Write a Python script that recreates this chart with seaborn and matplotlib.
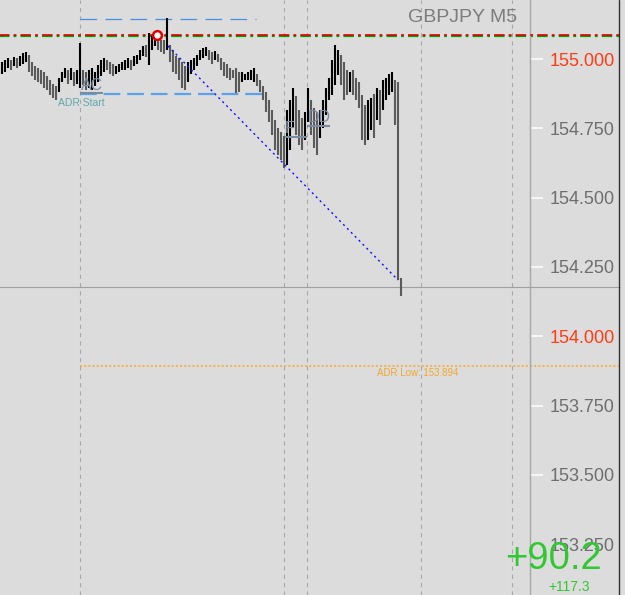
import numpy as np
import pandas as pd
import matplotlib
matplotlib.use("Agg")
import matplotlib.pyplot as plt
import matplotlib.transforms as mtransforms
from matplotlib.lines import Line2D
import seaborn as sns

# ---------------- data ----------------
symbol = "GBPJPY M5"
highs = [154.989, 154.996, 155.004, 154.996, 155.007, 155.004, 155.011, 155.022, 155.025, 155.014,
         154.989, 154.975, 154.968, 154.960, 154.953, 154.939, 154.924, 154.910, 154.903, 154.931,
         154.953, 154.968, 154.960, 154.968, 154.953, 154.960, 155.058, 154.960, 154.953, 154.960,
         154.968, 154.953, 154.978, 154.996, 155.004, 154.996, 154.989, 154.982, 154.975, 154.982,
         154.989, 154.996, 155.004, 154.996, 155.011, 155.014, 155.032, 155.047, 155.050, 155.094,
         155.083, 155.090, 155.076, 155.069, 155.069, 155.148, 155.050, 155.032, 155.011, 155.004,
         154.989, 154.975, 154.989, 154.996, 155.004, 155.014, 155.032, 155.040, 155.043, 155.032,
         155.025, 155.029, 155.018, 155.004, 154.989, 154.982, 154.968, 154.960, 154.968, 154.953,
         154.953, 154.946, 154.953, 154.960, 154.968, 154.946, 154.924, 154.903, 154.881, 154.852,
         154.816, 154.780, 154.751, 154.737, 154.722, 154.816, 154.852, 154.895, 154.867, 154.816,
         154.787, 154.809, 154.895, 154.852, 154.823, 154.809, 154.816, 154.852, 154.895, 154.931,
         154.996, 155.050, 155.032, 155.014, 154.989, 154.960, 154.953, 154.960, 154.931, 154.917,
         154.870, 154.834, 154.852, 154.859, 154.874, 154.895, 154.888, 154.924, 154.931, 154.946,
         154.953, 154.924, 154.917, 154.210]
lows = [154.946, 154.953, 154.968, 154.960, 154.975, 154.968, 154.975, 154.982, 154.989, 154.953,
        154.939, 154.924, 154.917, 154.910, 154.895, 154.888, 154.870, 154.859, 154.852, 154.881,
        154.917, 154.931, 154.910, 154.924, 154.903, 154.910, 154.895, 154.906, 154.888, 154.895,
        154.888, 154.903, 154.917, 154.939, 154.953, 154.960, 154.946, 154.939, 154.946, 154.953,
        154.960, 154.960, 154.968, 154.960, 154.975, 154.982, 154.996, 155.011, 155.007, 154.978,
        155.032, 155.047, 155.032, 155.025, 155.018, 155.032, 154.989, 154.953, 154.946, 154.924,
        154.895, 154.888, 154.917, 154.946, 154.960, 154.975, 154.996, 155.004, 155.011, 154.996,
        154.982, 154.996, 154.989, 154.960, 154.939, 154.931, 154.924, 154.931, 154.877, 154.881,
        154.917, 154.924, 154.924, 154.924, 154.917, 154.903, 154.881, 154.852, 154.809, 154.773,
        154.726, 154.672, 154.654, 154.636, 154.607, 154.618, 154.672, 154.751, 154.726, 154.690,
        154.672, 154.708, 154.773, 154.726, 154.679, 154.654, 154.715, 154.751, 154.798, 154.852,
        154.870, 154.906, 154.942, 154.906, 154.852, 154.870, 154.881, 154.870, 154.852, 154.823,
        154.708, 154.690, 154.708, 154.744, 154.715, 154.780, 154.762, 154.816, 154.852, 154.870,
        154.881, 154.762, 154.203, 154.145]
price_ticks = [153.25, 153.5, 153.75, 154.0, 154.25, 154.5, 154.75, 155.0]
round_levels = [154.0, 155.0]
pivot_level = 155.087
adr_high_level = 155.144
adr_start_level = 154.874
adr_low_level = 153.894
current_price = 154.178
session_bars = [26, 94, 101.7, 139.7, 170]
trend_x = [55.3, 132.0]
trend_y = [155.047, 154.203]
swing_x = [51.7]
swing_y = [155.087]
adr_low_label = "ADR Low: 153.894"
pips_today = "+90.2"
pips_total = "+117.3"

# ---------------- style ----------------
bg = "#dcdcdc"
sns.set_theme(style="white", rc={"axes.facecolor": bg, "figure.facecolor": bg})
plt.rcParams["font.family"] = ["Liberation Sans", "DejaVu Sans"]
plt.rcParams["lines.scale_dashes"] = False

W, H = 625, 595
fig = plt.figure(figsize=(W / 100, H / 100), dpi=100)
ax = fig.add_axes([0, 0, 530 / W, 1])
ax.set_facecolor(bg)

n = len(highs)
idx = np.arange(n)
df = pd.DataFrame({"bar": idx, "high": highs, "low": lows})
df["mid"] = (df["high"] + df["low"]) / 2
up = df["mid"].diff().fillna(0) >= 0
colors = np.where(up, "#000000", "#5a5a5a")

x_right_ext = 206  # bar units at the right edge of the price panel

# session separators
for sb in session_bars:
    ax.axvline(sb, color="#a8a8a8", lw=0.8, ls=(0, (3, 3)), zorder=1)

# current price line
ax.hlines(current_price, -1, x_right_ext, color="#a0a0a0", lw=0.8, clip_on=False, zorder=1)

# pivot dash-dot (green under red)
dd = (0, (7.5, 3.0, 2.0, 3.0))
off = mtransforms.offset_copy(ax.transData, fig=fig, x=0, y=-1.0, units="dots")
ax.hlines(pivot_level, -1, x_right_ext, color="#00a000", lw=1.6, ls=dd, clip_on=False,
          transform=off, zorder=2)
ax.hlines(pivot_level, -1, x_right_ext, color="#e00000", lw=1.2, ls=dd, clip_on=False, zorder=3)

# ADR lines
ax.hlines(adr_high_level, 26, 84.7, color="#4a90dc", lw=0.9, ls=(0, (12, 6)), zorder=2)
ax.hlines(adr_start_level, 26, 86.7, color="#5aa2ec", lw=1.6, ls=(0, (12, 5)), zorder=2)
ax.hlines(adr_low_level, 26, x_right_ext, color="#f5ac3a", lw=1.2, ls=(0, (1.5, 1.5)),
          clip_on=False, zorder=2)

# bars
ax.vlines(df["bar"], df["low"], df["high"], colors=colors, lw=1.5, zorder=4)

# trend line
sns.lineplot(x=trend_x, y=trend_y, ax=ax, color="#1010ff", lw=1.0,
             linestyle=(0, (1.5, 2.5)), zorder=5)
sns.scatterplot(x=swing_x, y=swing_y, ax=ax, s=40, facecolor="white",
                edgecolor="#e00000", linewidth=1.8, zorder=6)

# labels on chart
lab_c = "#7a8ca4"
ax.text(26.3, 154.878, "AC", color=lab_c, fontsize=11.5, ha="left", va="bottom", zorder=6)
ax.hlines(154.876, 26, 33.7, color=lab_c, lw=1.5, zorder=6)
ax.text(18.7, 154.858, "ADR Start", color="#5fa8b0", fontsize=7.5, ha="left", va="top", zorder=6)
ax.text(94.4, 154.721, "F", color=lab_c, fontsize=11.5, ha="left", va="bottom", zorder=6)
ax.hlines(154.719, 94.3, 101.7, color=lab_c, lw=1.5, zorder=6)
ax.text(101.9, 154.762, "DD", color=lab_c, fontsize=11.5, ha="left", va="bottom", zorder=6)
ax.hlines(154.760, 101.7, 109.3, color=lab_c, lw=1.5, zorder=6)
ax.text(125, 153.884, adr_low_label, color="#f0a830", fontsize=7, ha="left", va="top", zorder=6)

# axes limits and y axis on the right
ax.set_xlim(-2 / 3, 176)
ax.set_ylim(153.0672, 155.2128)
ax.set_xticks([])
ax.yaxis.tick_right()
ax.set_yticks(price_ticks)
ax.set_yticklabels([f"{t:.3f}" for t in price_ticks], fontsize=13)
ax.tick_params(axis="y", which="major", direction="out", length=9.5, width=1.1,
               color="white", pad=4.5, right=True, left=False)
for t, lab, tk in zip(price_ticks, ax.get_yticklabels(), ax.yaxis.get_major_ticks()):
    if t in round_levels:
        lab.set_color("#ff3c14")
        tk.tick2line.set_color("#ff6040")
    else:
        lab.set_color("#6e6e6e")
for s in ["top", "left", "bottom"]:
    ax.spines[s].set_visible(False)
ax.spines["right"].set_color("#a8a8a8")
ax.spines["right"].set_linewidth(1.0)

# right border
fig.add_artist(Line2D([619 / W, 619 / W], [0, 1], color="#303030", lw=1.0))

# header and pip counters
fig.text(408 / W, 1 - 17 / H, symbol, color="#7c7c7c", fontsize=14, ha="left", va="center")
fig.text(505 / W, 1 - 559 / H, pips_today, color="#30c830", fontsize=27.5, ha="left", va="center")
fig.text(548 / W, 1 - 587 / H, pips_total, color="#30c830", fontsize=10, ha="left", va="center")

fig.savefig("out.png", dpi=100, facecolor=bg)
